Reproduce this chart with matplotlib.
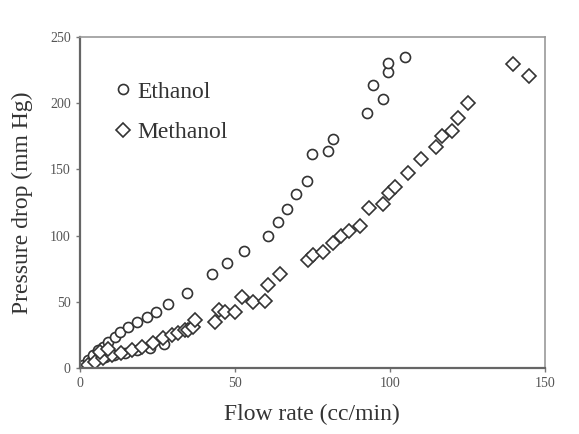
import matplotlib
matplotlib.use('Agg')
import matplotlib.pyplot as plt

# Ethanol (circles)
eth_flow = [1.1, 2.7, 4.3, 5.9, 7.5, 9.1, 11.3, 12.9, 15.6, 18.3, 21.5, 24.7,
            28.5, 34.4, 42.6, 47.4, 53.0, 60.8, 64.0, 66.9, 69.8, 73.3, 75.0,
            80.1, 81.7, 92.5, 94.4, 97.8, 99.5, 99.5, 104.8,
            8.0, 11.0, 14.5, 18.5, 22.5, 27.0]
eth_dp = [2.3, 6.0, 9.8, 13.6, 16.0, 20.0, 23.6, 27.4, 31.0, 35.0, 38.7, 42.5,
          48.3, 57.0, 71.0, 79.3, 88.5, 99.7, 110.5, 120.0, 131.5, 141.0, 161.5,
          164.0, 173.0, 192.4, 213.7, 203.0, 223.8, 230.6, 234.7,
          8.0, 9.5, 11.5, 13.5, 15.5, 18.0]

# Methanol (diamonds)
meth_flow = [2.7, 4.8, 7.5, 10.2, 13.4, 16.7, 19.9, 23.5, 26.8, 29.6, 31.6,
             33.9, 34.8, 36.5, 37.1, 43.5, 45.0, 46.8, 50.0, 52.2, 55.9, 59.7,
             60.7, 64.5, 73.6, 75.2, 78.5, 81.7, 84.2, 86.8, 90.3, 93.3, 97.8,
             99.8, 101.6, 105.9, 109.9, 115.0, 116.7, 120.2, 122.0, 125.3,
             139.6, 144.9, 6.5, 9.0]
meth_dp = [2.3, 4.8, 7.3, 9.8, 11.0, 13.6, 16.0, 18.9, 22.7, 25.0, 26.4,
           28.7, 28.7, 31.2, 36.3, 35.0, 43.8, 42.5, 42.5, 53.9, 49.5, 50.5,
           62.7, 71.3, 81.6, 85.3, 87.8, 94.5, 100.0, 103.5, 107.5, 121.0, 123.5,
           132.0, 137.0, 147.0, 157.6, 166.7, 174.8, 178.6, 188.5, 200.0,
           229.6, 220.5, 12.0, 14.5]

x_ticks = [0, 50, 100, 150]
y_ticks = [0, 50, 100, 150, 200, 250]

plt.rcParams['font.family'] = ['Liberation Serif', 'DejaVu Serif']

fig = plt.figure(figsize=(5.79, 4.34), dpi=100)
ax = fig.add_axes([0.138, 0.152, 0.803, 0.763])

ax.plot(eth_flow, eth_dp, linestyle='none', marker='o', markersize=7.2,
        markerfacecolor='white', markeredgecolor='#333333',
        markeredgewidth=1.2, label='Ethanol')
ax.plot(meth_flow, meth_dp, linestyle='none', marker='D', markersize=7.4,
        markerfacecolor='white', markeredgecolor='#333333',
        markeredgewidth=1.2, label='Methanol')

ax.set_xlim(0, 150)
ax.set_ylim(0, 250)
ax.set_xticks(x_ticks)
ax.set_yticks(y_ticks)
ax.tick_params(direction='out', length=3, width=1, colors='#777777',
               labelsize=10, labelcolor='#555555')

for side in ['left', 'bottom']:
    ax.spines[side].set_color('#666666')
    ax.spines[side].set_linewidth(1.6)
for side in ['top', 'right']:
    ax.spines[side].set_color('#999999')
    ax.spines[side].set_linewidth(1.2)

ax.set_xlabel('Flow rate (cc/min)', fontsize=17, color='#333333', labelpad=10)
ax.set_ylabel('Pressure drop (mm Hg)', fontsize=17, color='#333333', labelpad=12)

leg = ax.legend(loc='upper left', bbox_to_anchor=(0.047, 0.895), frameon=False,
                fontsize=17, handletextpad=0.1, handlelength=1.0,
                labelspacing=0.8, borderaxespad=0)
for t in leg.get_texts():
    t.set_color('#333333')

fig.savefig('out.png', dpi=100)
